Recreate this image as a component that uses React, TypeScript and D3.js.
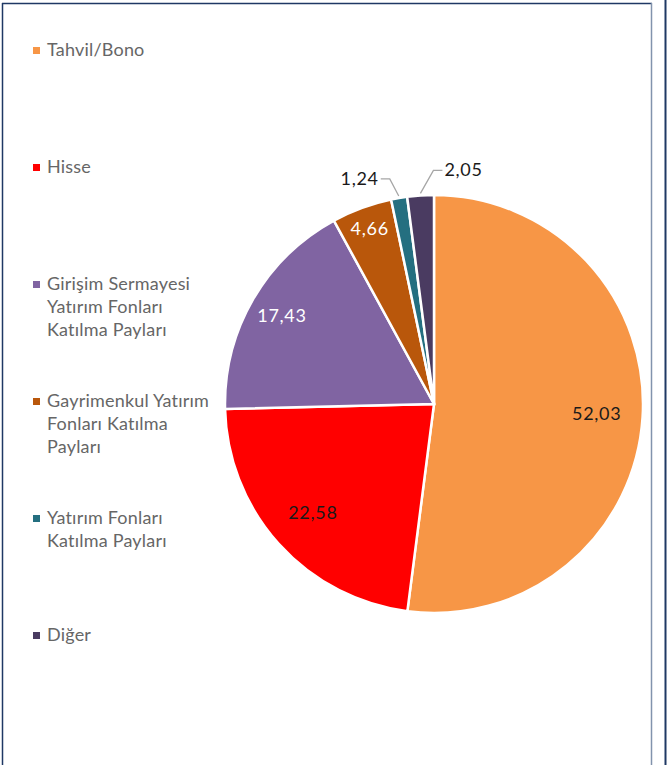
import * as d3 from "d3";
import { useEffect, useRef } from "react";

const categories = [
  "Tahvil/Bono",
  "Hisse",
  "Girişim Sermayesi Yatırım Fonları Katılma Payları",
  "Gayrimenkul Yatırım Fonları Katılma Payları",
  "Yatırım Fonları Katılma Payları",
  "Diğer",
];
const legendLines = [
  ["Tahvil/Bono"],
  ["Hisse"],
  ["Girişim Sermayesi", "Yatırım Fonları", "Katılma Payları"],
  ["Gayrimenkul Yatırım", "Fonları Katılma", "Payları"],
  ["Yatırım Fonları", "Katılma Payları"],
  ["Diğer"],
];
const values = [52.03, 22.58, 17.43, 4.66, 1.24, 2.05];
const colors = ["#F79646", "#FF0000", "#8064A2", "#B9570B", "#246F80", "#4A3B61"];
const labelColors = ["#1a1a1a", "#1a1a1a", "#ffffff", "#ffffff", "#1a1a1a", "#1a1a1a"];

const W = 668;
const H = 765;

export default function App() {
  const svgRef = useRef<SVGSVGElement | null>(null);

  useEffect(() => {
    const svg = d3.select(svgRef.current);
    svg.selectAll("*").remove();
    const font = "Lato, 'Open Sans', sans-serif";

    // frame
    svg.append("line").attr("x1", 2.5).attr("x2", 2.5).attr("y1", 3).attr("y2", H)
      .attr("stroke", "#1F3864").attr("stroke-width", 1.5);
    svg.append("line").attr("x1", 2).attr("x2", 652).attr("y1", 3.5).attr("y2", 3.5)
      .attr("stroke", "#1F3864").attr("stroke-width", 1.5);
    svg.append("line").attr("x1", 651.5).attr("x2", 651.5).attr("y1", 3).attr("y2", H)
      .attr("stroke", "#8293AD").attr("stroke-width", 1.5);
    svg.append("line").attr("x1", 665.5).attr("x2", 665.5).attr("y1", 0).attr("y2", H)
      .attr("stroke", "#1F3864").attr("stroke-width", 2);

    // legend
    const legendTop = 56;
    const legendStep = 117;
    const lineH = 23;
    const lg = svg.append("g").attr("font-family", font).attr("font-size", 18)
      .attr("fill", "#666666").attr("letter-spacing", 0.2);
    legendLines.forEach((lines, i) => {
      const y0 = legendTop + i * legendStep;
      lg.append("rect").attr("x", 33).attr("y", y0 - 9).attr("width", 7).attr("height", 7)
        .attr("fill", colors[i]);
      lines.forEach((t, j) => {
        lg.append("text").attr("x", 47).attr("y", y0 + j * lineH).text(t);
      });
    });

    // pie
    const cx = 434, cy = 404, r = 209;
    const pie = d3.pie<number>().sort(null).value((d) => d);
    const arcs = pie(values);
    const arc = d3.arc<d3.PieArcDatum<number>>().innerRadius(0).outerRadius(r);
    const g = svg.append("g").attr("transform", `translate(${cx},${cy})`);
    g.selectAll("path").data(arcs).join("path")
      .attr("d", arc)
      .attr("fill", (_, i) => colors[i])
      .attr("stroke", "#fff").attr("stroke-width", 2.5)
      .append("title").text((d, i) => `${categories[i]}: ${values[i]}`);

    const fmt = (v: number) => v.toFixed(2).replace(".", ",");
    const polar = (a: number, rr: number) => [Math.sin(a) * rr, -Math.cos(a) * rr];
    const insideRadius = [0.78, 0.78, 0.84, 0.89];
    // outside labels: leader elbow offsets
    const outside: Record<number, { dx: number; dy: number; side: number }> = {
      4: { dx: -9, dy: -17, side: -1 },
      5: { dx: 13, dy: -23, side: 1 },
    };
    const labelStyle = (t: d3.Selection<SVGTextElement, unknown, null, undefined>, i: number) =>
      t.attr("font-family", font).attr("font-size", 18)
        .attr("letter-spacing", 0.7).attr("fill", labelColors[i]).text(fmt(values[i]));

    arcs.forEach((d, i) => {
      const mid = (d.startAngle + d.endAngle) / 2;
      if (outside[i]) {
        const o = outside[i];
        const [sx, sy] = polar(mid, r + 2);
        const ex = sx + o.dx, ey = sy + o.dy;
        const tx = ex + o.side * 9;
        g.append("polyline")
          .attr("points", `${sx},${sy} ${ex},${ey} ${tx},${ey}`)
          .attr("fill", "none").attr("stroke", "#A6A6A6").attr("stroke-width", 1.3);
        labelStyle(g.append("text")
          .attr("x", tx + o.side * 2).attr("y", ey + 6)
          .attr("text-anchor", o.side > 0 ? "start" : "end"), i);
      } else {
        const [lx, ly] = polar(mid, r * insideRadius[i]);
        labelStyle(g.append("text")
          .attr("x", lx).attr("y", ly + 6)
          .attr("text-anchor", "middle"), i);
      }
    });
  }, []);

  return (
    <div style={{ position: "absolute", left: 0, top: 0, width: W, height: H, background: "#fff" }}>
      <svg ref={svgRef} width={W} height={H} style={{ display: "block" }} />
    </div>
  );
}
